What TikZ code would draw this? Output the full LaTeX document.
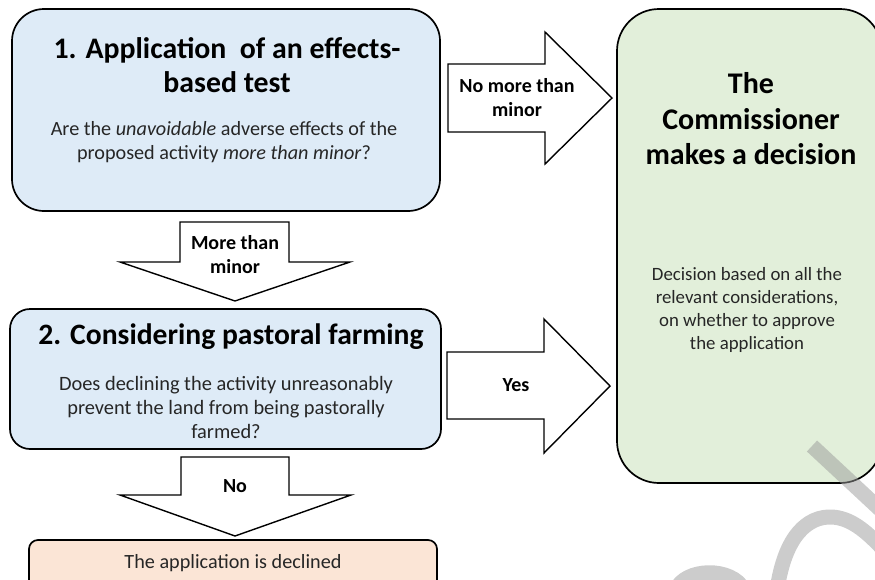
\documentclass[tikz,border=0pt]{standalone}
\usepackage{fontspec}
\setmainfont{Carlito}
\definecolor{boxblue}{HTML}{DEEBF7}
\definecolor{boxgreen}{HTML}{E2EFDA}
\definecolor{boxpeach}{HTML}{FBE5D6}
\definecolor{bodytext}{HTML}{262626}
\definecolor{markgray}{HTML}{9A9A9A}
\begin{document}
\begin{tikzpicture}[x=1pt,y=-1pt,
  panel/.style={draw=black, line width=1.7pt, inner sep=0pt},
  blockarrow/.style={draw=black, line width=1.4pt, fill=white, line join=miter},
  heading/.style={font=\fontsize{29.8}{34}\selectfont\bfseries, align=center, text=black, inner sep=0pt},
  bodycopy/.style={font=\fontsize{20.2}{24}\selectfont, align=center, text=bodytext, inner sep=0pt},
  arrowlabel/.style={font=\fontsize{20}{24}\selectfont\bfseries, align=center, text=black, inner sep=0pt},
  watermark/.style={draw=markgray, opacity=0.5, line width=15pt, line cap=butt}
]
\useasboundingbox (0,0) rectangle (875,579);

% panels
\node[panel, fill=boxblue, rounded corners=32pt, minimum width=428pt, minimum height=202pt] (testbox) at (226,110) {};
\node[panel, fill=boxblue, rounded corners=20pt, minimum width=431pt, minimum height=140pt] (farmbox) at (225.5,379) {};
\node[panel, fill=boxpeach, rounded corners=9pt, minimum width=408pt, minimum height=60pt] (declinebox) at (233,570) {};
\node[panel, fill=boxgreen, rounded corners=42pt, minimum width=265pt, minimum height=474pt] (decisionbox) at (749.5,246) {};

% panel texts
\node[heading] (testtitle) at (227,65) {1. Application\ \ of an effects-\\based test};
\node[bodycopy] (testq) at (224,142) {Are the \emph{unavoidable} adverse effects of the\\proposed activity \emph{more than minor}?};
\node[heading, font=\fontsize{29.6}{34}\selectfont\bfseries] (farmtitle) at (231,337) {2. Considering pastoral farming};
\node[bodycopy, font=\fontsize{20.4}{24}\selectfont] (farmq) at (226,407) {Does declining the activity unreasonably\\prevent the land from being pastorally\\farmed?};
\node[bodycopy, font=\fontsize{20.2}{24}\selectfont] (declinetext) at (233,563) {The application is declined};
\node[heading, font=\fontsize{30}{35.5}\selectfont\bfseries] (decisiontitle) at (751,119) {The\\Commissioner\\makes a decision};
\node[bodycopy, font=\fontsize{18.8}{23}\selectfont] (decisiontext) at (747,310) {Decision based on all the\\relevant considerations,\\on whether to approve\\the application};

% block arrows
\draw[blockarrow] (448,64) -- (545,64) -- (545,32) -- (612,98) -- (545,164) -- (545,132) -- (448,132) -- cycle;
\draw[blockarrow] (447,352) -- (544,352) -- (544,319) -- (610,386) -- (544,453) -- (544,419) -- (447,419) -- cycle;
\draw[blockarrow] (180,222) -- (289,222) -- (289,262) -- (350,262) -- (235,301) -- (120,262) -- (180,262) -- cycle;
\draw[blockarrow] (181,457) -- (289,457) -- (289,495) -- (351,495) -- (235,536) -- (120,495) -- (181,495) -- cycle;

% arrow labels
\node[arrowlabel] (minorno) at (517,98) {No more than\\minor};
\node[arrowlabel] (minoryes) at (235,255) {More than\\minor};
\node[arrowlabel] (farmyes) at (516,385) {Yes};
\node[arrowlabel] (farmno) at (235,486) {No};

% watermark strokes in the lower right corner
\draw[watermark] (812,446) -- (885,514);
\draw[watermark] (777,590) .. controls (785,535) and (808,516) .. (832,517) .. controls (850,518) and (865,530) .. (882,548);
\draw[watermark] (676,590) .. controls (684,568) and (732,566) .. (744,590);
\end{tikzpicture}
\end{document}
